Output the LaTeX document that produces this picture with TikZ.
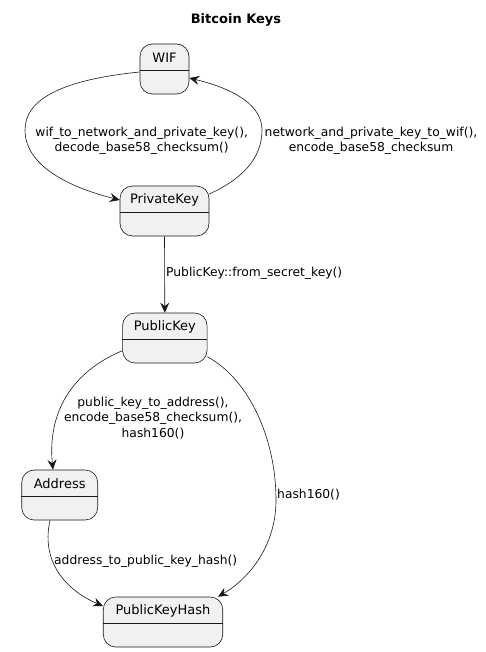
\documentclass[tikz,border=0pt]{standalone}
\usepackage{fontspec}
\setmainfont{DejaVu Sans}
\usetikzlibrary{arrows.meta}
\definecolor{stfill}{HTML}{F1F1F1}
\definecolor{stline}{HTML}{181818}
\tikzset{
  stbox/.style={draw=stline, fill=stfill, line width=0.6pt, rounded corners=12.5pt, minimum height=50pt, inner sep=0pt},
  stname/.style={font=\fontsize{13}{15}\selectfont, inner sep=0pt},
  elabel/.style={font=\fontsize{12.3}{15.5}\selectfont, align=center, inner sep=0pt},
  conn/.style={draw=stline, line width=0.6pt, -{Stealth[length=10pt,width=9pt,inset=3.5pt]}},
}
\begin{document}
\begin{tikzpicture}[x=1pt,y=-1pt]
\useasboundingbox (0,0) rectangle (486,652);
\node[font=\bfseries\fontsize{13}{15}\selectfont] (title) at (236,20) {Bitcoin Keys};
% states
\node[stbox, minimum width=49pt] (wif) at (164.5,69) {};
\node[stbox, minimum width=89pt] (pk) at (164.5,211) {};
\node[stbox, minimum width=84.5pt] (pub) at (164.8,338) {};
\node[stbox, minimum width=76pt] (addr) at (59.7,495) {};
\node[stbox, minimum width=119.5pt] (pkh) at (163,622) {};
\foreach \n/\t in {wif/WIF, pk/PrivateKey, pub/PublicKey, addr/Address, pkh/PublicKeyHash}{
  \node[stname] (\n-name) at ([yshift=-14pt]\n.north) {\t};
  \draw[stline, line width=0.6pt] ([yshift=-26.5pt]\n.north west) -- ([yshift=-26.5pt]\n.north east);
}
% connectors
\draw[conn] ([yshift=-3pt]wif.west) .. controls (60,80) and (25,100) .. (25,130)
  .. controls (25,170) and (80,190) .. ([yshift=11pt]pk.west);
\draw[conn] ([yshift=17pt]pk.east) .. controls (240,180) and (262,160) .. (262,130)
  .. controls (262,100) and (222,86) .. ([yshift=-9pt]wif.east);
\draw[conn] (pk.south) -- (pub.north);
\draw[conn] ([yshift=-12.7pt]pub.west) .. controls (65,375) and (48,420) .. ([xshift=-6.7pt]addr.north);
\draw[conn] ([yshift=-18.7pt]pub.east) .. controls (250,380) and (276,440) .. (276,500)
  .. controls (276,545) and (250,578) .. ([xshift=55pt]pkh.north);
\draw[conn] ([xshift=-9.7pt]addr.south) .. controls (40,565) and (70,592) .. ([yshift=16pt]pkh.west);
% labels
\node[elabel] (l1) at (141.7,141) {wif\_to\_network\_and\_private\_key(),\\decode\_base58\_checksum()};
\node[elabel] (l2) at (371,141) {network\_and\_private\_key\_to\_wif(),\\encode\_base58\_checksum};
\node[elabel, anchor=west] (l3) at (166,273) {PublicKey::from\_secret\_key()};
\node[elabel] (l4) at (153,418) {public\_key\_to\_address(),\\encode\_base58\_checksum(),\\hash160()};
\node[elabel, anchor=west] (l5) at (277,495) {hash160()};
\node[elabel, anchor=west] (l6) at (54,561) {address\_to\_public\_key\_hash()};
\end{tikzpicture}
\end{document}
